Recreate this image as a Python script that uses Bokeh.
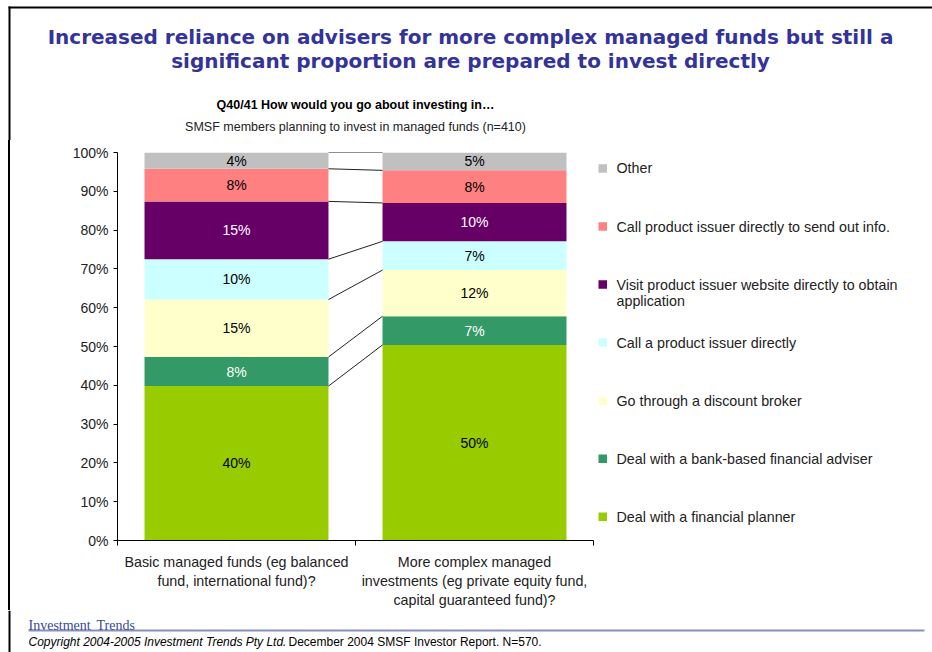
from bokeh.plotting import figure
from bokeh.models import ColumnDataSource, Range1d, FixedTicker, PrintfTickFormatter, Spacer
from bokeh.core.properties import value
from bokeh.layouts import column, row
from bokeh.embed import file_html
from bokeh.resources import INLINE

# ---------------- data ----------------
categories = ["Basic managed funds (eg balanced\nfund, international fund)?",
              "More complex managed\ninvestments (eg private equity fund,\ncapital guaranteed fund)?"]
series = ["Deal with a financial planner",
          "Deal with a bank-based financial adviser",
          "Go through a discount broker",
          "Call a product issuer directly",
          "Visit product issuer website directly to obtain\napplication",
          "Call product issuer directly to send out info.",
          "Other"]
basic = [39.8, 7.5, 14.8, 10.4, 14.9, 8.4, 4.2]
complex_ = [50.4, 7.4, 11.9, 7.4, 9.9, 8.4, 4.6]
y_ticks = [0, 10, 20, 30, 40, 50, 60, 70, 80, 90, 100]

title_lines = ["Increased reliance on advisers for more complex managed funds but still a",
               "significant proportion are prepared to invest directly"]
question = "Q40/41 How would you go about investing in\u2026"
base_note = "SMSF members planning to invest in managed funds (n=410)"
logo_words = ["Investment", "Trends"]
copy_italic = "Copyright 2004-2005 Investment Trends Pty Ltd."
copy_plain = "December 2004 SMSF Investor Report. N=570."

colors = ["#99CC00", "#339966", "#FFFFCC", "#CCFFFF", "#660066", "#FF8080", "#C0C0C0"]
label_colors = ["black", "white", "black", "black", "white", "black", "black"]

FONT = "Liberation Sans"
FS = "14px"
PAGE_W = 932
HEAD_H, MID_H, FOOT_H = 140, 470, 42
MAIN_W = 586
LEFT_W = 10
LEG_W = PAGE_W - LEFT_W - MAIN_W
BT, BB = 12, 69            # top / bottom borders of the chart row
FR_TOP = HEAD_H + BT       # page y of the plot frame top
FR_BOT = HEAD_H + MID_H - BB


def pix_fig(w, h, **kw):
    f = figure(width=w, height=h, output_backend="svg", toolbar_location=None,
               x_axis_type=None, y_axis_type=None, **kw)
    f.grid.visible = False
    f.outline_line_color = None
    return f


# ---------------- header ----------------
head = pix_fig(PAGE_W, HEAD_H, x_range=Range1d(0, PAGE_W), y_range=Range1d(HEAD_H, 0),
               min_border=0)
head.quad(left=[8, 8], right=[PAGE_W, 10], top=[6, 6], bottom=[8, HEAD_H],
          fill_color="black", line_color=None)
head.text(x=[470, 470], y=[36, 60], text=title_lines, text_align="center",
          text_baseline="middle", text_font=value("DejaVu Sans"), text_font_style="bold",
          text_font_size="20px", text_color="#333399")
head.text(x=[355], y=[104], text=[question], text_align="center", text_baseline="middle",
          text_font=value(FONT), text_font_style="bold", text_font_size="12.5px",
          text_color="black")
head.text(x=[355], y=[126], text=[base_note], text_align="center", text_baseline="middle",
          text_font=value(FONT), text_font_size="12.5px", text_color="#222222")

# ---------------- left page rule ----------------
gap = Spacer(width=8, height=MID_H)
rule = Spacer(width=2, height=MID_H, styles={"background-color": "black"})

# ---------------- main chart ----------------
xs = [0.5, 1.5]
bar_w = 0.773
p = figure(width=MAIN_W, height=MID_H, output_backend="svg", toolbar_location=None,
           x_range=Range1d(0, 2), y_range=Range1d(0, 100),
           min_border_left=107, min_border_right=3, min_border_top=BT, min_border_bottom=BB)
p.outline_line_color = None
p.grid.visible = False

keys = [f"s{i}" for i in range(len(series))]
data = {"x": xs}
for k, a, b in zip(keys, basic, complex_):
    data[k] = [a, b]
src = ColumnDataSource(data)
p.vbar_stack(keys, x="x", width=bar_w, color=colors, line_color=None, source=src)

lx, ly, lt, lc = [], [], [], []
for vals, x in ((basic, xs[0]), (complex_, xs[1])):
    cum = 0
    for v, c in zip(vals, label_colors):
        lx.append(x)
        ly.append(cum + v / 2)
        lt.append(f"{round(v)}%")
        lc.append(c)
        cum += v
p.text(x=lx, y=ly, text=lt, text_color=lc, text_align="center", text_baseline="middle",
       text_font=value(FONT), text_font_size=FS)

cb, cc = [], []
s1 = s2 = 0
for a, b in zip(basic, complex_):
    s1 += a
    s2 += b
    cb.append(s1)
    cc.append(s2)
p.segment(x0=[xs[0] + bar_w / 2] * len(cb), y0=cb,
          x1=[xs[1] - bar_w / 2] * len(cc), y1=cc,
          line_color="#222222", line_width=1)

ya = p.yaxis[0]
ya.ticker = FixedTicker(ticks=y_ticks, minor_ticks=[])
ya.formatter = PrintfTickFormatter(format="%d%%")
ya.major_tick_out = 4
ya.major_tick_in = 0
ya.major_label_standoff = 5
ya.major_label_text_font = FONT
ya.major_label_text_font_size = FS
ya.major_label_text_color = "#222222"
ya.axis_line_color = "black"

xa = p.xaxis[0]
xa.ticker = FixedTicker(ticks=xs, minor_ticks=[0, 1, 2])
xa.major_label_overrides = {xs[0]: categories[0], xs[1]: categories[1]}
xa.major_tick_line_color = None
xa.major_tick_out = 0
xa.major_tick_in = 0
xa.minor_tick_out = 5
xa.minor_tick_in = 0
xa.minor_tick_line_color = "black"
xa.major_label_standoff = 8
xa.major_label_text_font = FONT
xa.major_label_text_font_size = "14.3px"
xa.major_label_text_color = "#222222"
xa.axis_line_color = "black"

# ---------------- legend (page coordinates) ----------------
x_leg0 = LEFT_W + MAIN_W
leg = pix_fig(LEG_W, MID_H, x_range=Range1d(x_leg0, PAGE_W), y_range=Range1d(FR_BOT, FR_TOP),
              min_border_left=0, min_border_right=0, min_border_top=BT, min_border_bottom=BB)
order = list(range(len(series)))[::-1]
ly0, lstep = 168, 58.2
sq = 8.5
leg_y = [ly0 + i * lstep for i in range(len(order))]
leg.quad(left=[598] * len(order), right=[598 + sq] * len(order),
         top=[y - sq / 2 for y in leg_y], bottom=[y + sq / 2 for y in leg_y],
         fill_color=[colors[j] for j in order], line_color=None)
txt_x, txt_y, txt = [], [], []
for y, j in zip(leg_y, order):
    for n, line in enumerate(series[j].split("\n")):
        txt_x.append(616)
        txt_y.append(y + n * 16)
        txt.append(line)
leg.text(x=txt_x, y=txt_y, text=txt, text_baseline="middle", text_font=value(FONT),
         text_font_size="14.3px", text_color="#222222")

# ---------------- footer ----------------
foot = pix_fig(PAGE_W, FOOT_H, x_range=Range1d(0, PAGE_W), y_range=Range1d(FOOT_H, 0),
               min_border=0)
foot.quad(left=[8, 28], right=[10, 924], top=[0, 19], bottom=[FOOT_H, 21],
          fill_color=["black", "#8890C0"], line_color=None)
foot.text(x=[28, 96], y=[15, 15], text=logo_words, text_baseline="middle",
          text_font=value("Liberation Serif"), text_font_size="14px", text_color="#3A4A9A")
foot.text(x=[28], y=[31], text=[copy_italic], text_baseline="middle", text_font=value(FONT),
          text_font_style="italic", text_font_size="12px", text_color="black")
foot.text(x=[288], y=[31], text=[copy_plain], text_baseline="middle", text_font=value(FONT),
          text_font_size="12px", text_color="black")

layout = column(head, row(gap, rule, p, leg), foot)
open("out.html", "w").write(file_html(layout, INLINE))
